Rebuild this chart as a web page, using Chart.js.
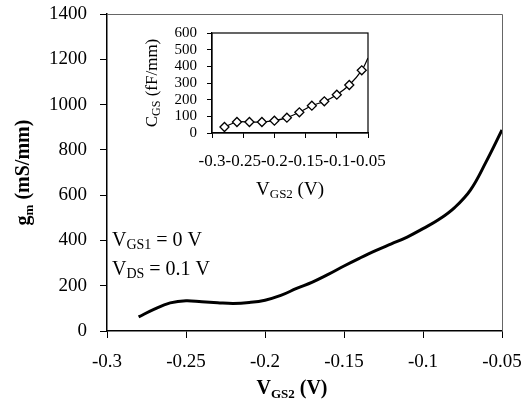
<!DOCTYPE html>
<html>
<head>
<meta charset="utf-8">
<script src="https://cdn.jsdelivr.net/npm/chart.js@4/dist/chart.umd.min.js"></script>
<style>
  html, body { margin: 0; padding: 0; background: #fff; }
  #wrap { position: relative; width: 525px; height: 408px; }
  #mainChart { position: absolute; left: 0; top: 0; }
  #insetChart { position: absolute; left: 125px; top: 20px; }
</style>
</head>
<body>
<div id="wrap">
  <canvas id="mainChart" width="525" height="408"></canvas>
  <canvas id="insetChart" width="280" height="185"></canvas>
</div>
<script>
// main curve: gm vs VGS2
const gmX = [-0.28, -0.27, -0.26, -0.25, -0.24, -0.23, -0.22, -0.21, -0.20, -0.19, -0.18, -0.17,
             -0.16, -0.15, -0.14, -0.13, -0.12, -0.11, -0.10, -0.09, -0.08, -0.07, -0.06, -0.05];
const gmY = [62, 97, 124, 134, 129, 125, 122, 126, 136, 157, 188, 216,
             250, 287, 322, 355, 385, 415, 452, 492, 545, 622, 748, 888];

// inset: CGS vs VGS2
const capX = [-0.28, -0.26, -0.24, -0.22, -0.20, -0.18, -0.16, -0.14, -0.12, -0.10, -0.08, -0.06, -0.05];
const capY = [36, 66, 66, 66, 74, 92, 124, 164, 190, 230, 288, 376, 450];

const xTicks = [-0.3, -0.25, -0.2, -0.15, -0.1, -0.05];
const xTickLabels = ['-0.3', '-0.25', '-0.2', '-0.15', '-0.1', '-0.05'];
const gmTicks = [0, 200, 400, 600, 800, 1000, 1200, 1400];
const capTicks = [0, 100, 200, 300, 400, 500, 600];

const SERIF = "'Liberation Serif', 'Times New Roman', serif";

function xLabel(v) {
    const i = xTicks.findIndex(t => Math.abs(t - v) < 1e-6);
    return i >= 0 ? xTickLabels[i] : '';
}

// keep the plot box where the layout padding puts it
function noPad(s) {
    s.paddingTop = 0; s.paddingBottom = 0; s.paddingLeft = 0; s.paddingRight = 0;
}

// text with subscripts, centred on (x, baseline y), optional rotation
function drawRich(ctx, parts, x, y, rot, align) {
    ctx.save();
    ctx.translate(x, y);
    if (rot) ctx.rotate(rot);
    let w = 0;
    parts.forEach(p => { ctx.font = p.font; w += ctx.measureText(p.text).width; });
    let cx = align === 'left' ? 0 : -w / 2;
    ctx.fillStyle = '#000';
    ctx.textBaseline = 'alphabetic';
    ctx.textAlign = 'left';
    parts.forEach(p => {
        ctx.font = p.font;
        ctx.fillText(p.text, cx, p.dy || 0);
        cx += ctx.measureText(p.text).width;
    });
    ctx.restore();
}

const mainDecor = {
    id: 'mainDecor',
    beforeDatasetsDraw(chart) {
        const { ctx, chartArea: a } = chart;
        ctx.save();
        ctx.strokeStyle = '#666';
        ctx.lineWidth = 1;
        ctx.beginPath();
        ctx.moveTo(a.left, a.top + 0.5);
        ctx.lineTo(a.right + 0.5, a.top + 0.5);
        ctx.lineTo(a.right + 0.5, a.bottom);
        ctx.stroke();
        ctx.restore();
    },
    afterDraw(chart) {
        const { ctx, chartArea: a } = chart;
        const b = 'bold 20px ' + SERIF, bs = 'bold 13px ' + SERIF;
        const n = '20px ' + SERIF, ns = '14px ' + SERIF;
        drawRich(ctx, [
            { text: 'g', font: b }, { text: 'm', font: bs, dy: 4 }, { text: ' (mS/mm)', font: b }
        ], 29, (a.top + a.bottom) / 2, -Math.PI / 2);
        drawRich(ctx, [
            { text: 'V', font: b }, { text: 'GS2', font: bs, dy: 4 }, { text: ' (V)', font: b }
        ], 292, 394);
        drawRich(ctx, [
            { text: 'V', font: n }, { text: 'GS1', font: ns, dy: 3 }, { text: ' = 0 V', font: n }
        ], a.left + 5, 246, 0, 'left');
        drawRich(ctx, [
            { text: 'V', font: n }, { text: 'DS', font: ns, dy: 3 }, { text: ' = 0.1 V', font: n }
        ], a.left + 5, 275, 0, 'left');
    }
};

new Chart(document.getElementById('mainChart'), {
    type: 'line',
    data: {
        datasets: [{
            data: gmX.map((x, i) => ({ x: x, y: gmY[i] })),
            borderColor: '#000',
            borderWidth: 3,
            pointRadius: 0,
            tension: 0.4,
            fill: false
        }]
    },
    options: {
        responsive: false,
        animation: false,
        layout: { padding: { left: 0, top: 14, right: 23, bottom: 0 } },
        plugins: { legend: { display: false }, tooltip: { enabled: false } },
        scales: {
            x: {
                type: 'linear', min: -0.3, max: -0.05,
                afterBuildTicks: s => { s.ticks = xTicks.map(v => ({ value: v })); },
                afterFit: s => { s.height = 77; noPad(s); },
                border: { display: true, color: '#000', width: 1.5 },
                grid: { display: true, drawOnChartArea: false, drawTicks: true, tickLength: 7, color: '#000', lineWidth: 1 },
                ticks: { autoSkip: false, maxRotation: 0, padding: 13, color: '#000', font: { family: SERIF, size: 19 }, callback: xLabel }
            },
            y: {
                min: 0, max: 1400,
                afterBuildTicks: s => { s.ticks = gmTicks.map(v => ({ value: v })); },
                afterFit: s => { s.width = 107; noPad(s); },
                border: { display: true, color: '#000', width: 1.5 },
                grid: { display: true, drawOnChartArea: false, drawTicks: true, tickLength: 7, color: '#000', lineWidth: 1 },
                ticks: { padding: 13, color: '#000', font: { family: SERIF, size: 19 }, callback: v => String(v) }
            }
        }
    },
    plugins: [mainDecor]
});

const insetDecor = {
    id: 'insetDecor',
    beforeDatasetsDraw(chart) {
        const { ctx, chartArea: a } = chart;
        ctx.save();
        ctx.strokeStyle = '#000';
        ctx.lineWidth = 1.2;
        ctx.strokeRect(a.left, a.top, a.right - a.left, a.bottom - a.top);
        ctx.restore();
    },
    afterDraw(chart) {
        const { ctx, chartArea: a } = chart;
        drawRich(ctx, [
            { text: 'C', font: '17px ' + SERIF }, { text: 'GS', font: '12px ' + SERIF, dy: 3 }, { text: ' (fF/mm)', font: '17px ' + SERIF }
        ], 32, (a.top + a.bottom) / 2, -Math.PI / 2);
        drawRich(ctx, [
            { text: 'V', font: '19px ' + SERIF }, { text: 'GS2', font: '13px ' + SERIF, dy: 3 }, { text: ' (V)', font: '19px ' + SERIF }
        ], (a.left + a.right) / 2, 175);
    }
};

new Chart(document.getElementById('insetChart'), {
    type: 'line',
    data: {
        datasets: [{
            data: capX.map((x, i) => ({ x: x, y: capY[i] })),
            borderColor: '#000',
            borderWidth: 1.2,
            tension: 0.3,
            pointStyle: 'rectRot',
            pointRadius: capX.map(x => (x > -0.055 ? 0 : 4.5)),
            pointBackgroundColor: '#fff',
            pointBorderColor: '#000',
            pointBorderWidth: 1.3,
            fill: false
        }]
    },
    options: {
        responsive: false,
        animation: false,
        layout: { padding: { left: 0, top: 13, right: 37, bottom: 0 } },
        plugins: { legend: { display: false }, tooltip: { enabled: false } },
        scales: {
            x: {
                type: 'linear', min: -0.3, max: -0.05,
                afterBuildTicks: s => { s.ticks = xTicks.map(v => ({ value: v })); },
                afterFit: s => { s.height = 72; noPad(s); },
                border: { display: true, color: '#000', width: 1.2 },
                grid: { display: true, drawOnChartArea: false, drawTicks: true, tickLength: 5, color: '#000', lineWidth: 1 },
                ticks: { autoSkip: false, maxRotation: 0, padding: 13, color: '#000', font: { family: SERIF, size: 17 }, callback: xLabel }
            },
            y: {
                min: 0, max: 600,
                afterBuildTicks: s => { s.ticks = capTicks.map(v => ({ value: v })); },
                afterFit: s => { s.width = 87; noPad(s); },
                border: { display: true, color: '#000', width: 1.2 },
                grid: { display: true, drawOnChartArea: false, drawTicks: true, tickLength: 5, color: '#000', lineWidth: 1 },
                ticks: { autoSkip: false, padding: 10, color: '#000', font: { family: SERIF, size: 15 }, callback: v => String(v) }
            }
        }
    },
    plugins: [insetDecor]
});
</script>
</body>
</html>
